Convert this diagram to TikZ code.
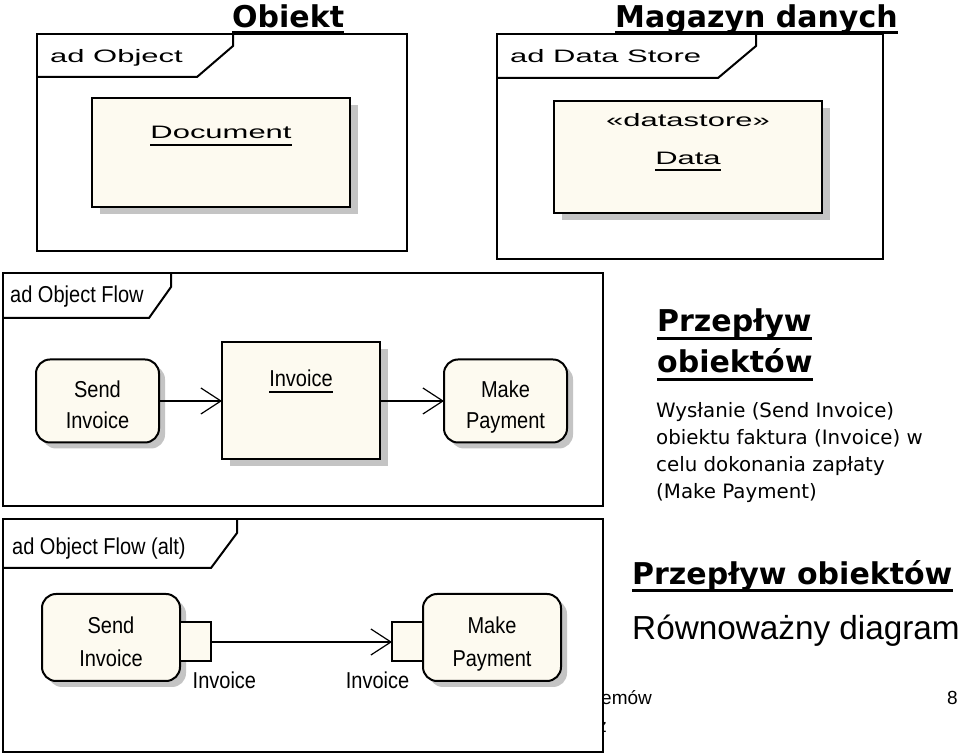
\documentclass[tikz,border=0pt]{standalone}
\usepackage{fontspec}
\setmainfont{Liberation Sans}
\newfontfamily\verdana{DejaVu Sans}
\newfontfamily\pixwide[FakeStretch=1.72]{Liberation Sans}
\newfontfamily\pixnarrow[FakeStretch=0.87]{Liberation Sans}
\usetikzlibrary{
    arrows.meta,
    positioning,
    calc,
    shadows
}
\definecolor{objfill}{RGB}{253,250,240}
\definecolor{shadowgray}{RGB}{196,196,196}
\tikzset{
    % --- Slide titles (bold, underlined by hand) ---
    title/.style = {
        font=\verdana\bfseries\fontsize{30}{36}\selectfont,
        inner sep=0pt, anchor=base west
    },
    % --- Slide body text ---
    body/.style = {
        font=\verdana\fontsize{19.8}{27}\selectfont,
        inner sep=0pt, anchor=base west
    },
    % --- Large plain text ---
    big text/.style = {
        font=\fontsize{33.3}{38}\selectfont,
        inner sep=0pt, anchor=base west
    },
    % --- Footer text ---
    footer/.style = {
        font=\fontsize{19}{23}\selectfont,
        inner sep=0pt
    },
    % --- Diagram frame (ad ...) ---
    ad frame/.style = {
        rectangle, draw, line width=2pt, fill=white,
        inner sep=0pt, outer sep=0pt
    },
    % --- Name tab of a frame ---
    frame tab/.style = {
        line width=2pt
    },
    % --- Wide pixel-like text (upper diagrams) ---
    wide text/.style = {
        font=\pixwide\fontsize{18}{22}\selectfont,
        inner sep=0pt, anchor=base
    },
    % --- Narrow text (lower diagrams) ---
    diagram text/.style = {
        font=\pixnarrow\fontsize{23}{31}\selectfont,
        inner sep=0pt
    },
    % --- Object node ---
    object/.style = {
        rectangle, draw, line width=2pt, fill=objfill,
        inner sep=0pt, outer sep=0pt,
        drop shadow={shadow xshift=8pt, shadow yshift=-7pt,
            fill=shadowgray, opacity=1}
    },
    % --- Action node ---
    action/.style = {
        rectangle, rounded corners=14pt, draw, line width=2pt,
        fill=objfill, inner sep=0pt, outer sep=0pt,
        diagram text, align=center, text height=56pt, text depth=0pt,
        drop shadow={shadow xshift=6pt, shadow yshift=-6pt,
            fill=shadowgray, opacity=1}
    },
    % --- Pin on an action ---
    pinbox/.style = {
        rectangle, draw, line width=2pt, fill=objfill,
        minimum width=31pt, minimum height=39pt,
        inner sep=0pt, outer sep=0pt
    },
    % --- Object flow ---
    flow/.style = {
        line width=2pt,
        -{Straight Barb[length=20pt, width=26pt, line width=1.2pt]}
    }
}

\begin{document}
\begin{tikzpicture}[x=1pt, y=1pt]

\useasboundingbox[fill=white] (0,0) rectangle (960,754);

% ---------------------------------------------------------
% Titles
% ---------------------------------------------------------
\node[title] (tObiekt) at (232,726) {Obiekt};
\node[title] (tMagazyn) at (615,726) {Magazyn danych};

% ---------------------------------------------------------
% ad Object
% ---------------------------------------------------------
\node[ad frame, minimum width=370pt, minimum height=217pt] (fObject) at (222,611.5) {};
\draw[frame tab] ([yshift=-43]fObject.north west) -- ++(160,0) -- ++(36,31) -- ++(0,12);
\node[wide text, anchor=base west] (lObject) at ([xshift=13,yshift=-29]fObject.north west) {ad Object};

\node[object, minimum width=258pt, minimum height=109pt] (doc) at (221,601.5) {};
\node[wide text] (docName) at ([yshift=-41]doc.north) {Document};

% ---------------------------------------------------------
% ad Data Store
% ---------------------------------------------------------
\node[ad frame, minimum width=386pt, minimum height=225pt] (fStore) at (690,607.5) {};
\draw[frame tab] ([yshift=-44]fStore.north west) -- ++(221,0) -- ++(38,32) -- ++(0,12);
\node[wide text, anchor=base west] (lStore) at ([xshift=13,yshift=-29]fStore.north west) {ad Data Store};

\node[object, minimum width=268pt, minimum height=112pt] (store) at (688,597) {};
\node[wide text] (storeType) at ([yshift=-26]store.north) {«datastore»};
\node[wide text] (storeName) at ([yshift=-64]store.north) {Data};

% ---------------------------------------------------------
% ad Object Flow
% ---------------------------------------------------------
\node[ad frame, minimum width=600pt, minimum height=233pt] (fFlow) at (303,364.5) {};
\draw[frame tab] ([yshift=-45]fFlow.north west) -- ++(146,0) -- ++(22,31) -- ++(0,14);
\node[diagram text, anchor=base west] (lFlow) at ([xshift=7,yshift=-30]fFlow.north west) {ad Object Flow};

\node[action, minimum width=123pt, minimum height=83pt] (send) at (97.5,353) {Send\\Invoice};
\node[object, minimum width=158pt, minimum height=117pt, right=63pt of send] (inv) {};
\node[action, minimum width=123pt, minimum height=83pt, right=64pt of inv] (pay) {Make\\Payment};
\node[diagram text, anchor=base] (invName) at ([yshift=-44]inv.north) {Invoice};

\draw[flow] (send) -- (inv);
\draw[flow] (inv) -- (pay);

% ---------------------------------------------------------
% Footer (partly hidden by the last frame)
% ---------------------------------------------------------
\node[footer, anchor=base west] (foot1) at (601,49) {emów};
\node[footer, anchor=base east] (foot2) at (607,21) {z};
\node[footer, anchor=base east] (page) at (958,49) {8};

% ---------------------------------------------------------
% ad Object Flow (alt)
% ---------------------------------------------------------
\node[ad frame, minimum width=600pt, minimum height=233pt] (fAlt) at (303,118.5) {};
\draw[frame tab] ([yshift=-49]fAlt.north west) -- ++(208,0) -- ++(26,35) -- ++(0,14);
\node[diagram text, anchor=base west] (lAlt) at ([xshift=9,yshift=-36]fAlt.north west) {ad Object Flow (alt)};

\node[action, font=\pixnarrow\fontsize{23}{33}\selectfont, text height=59pt,
    minimum width=138pt, minimum height=87pt] (send2) at (111,116.5) {Send\\Invoice};
\node[pinbox, right=0pt of send2, yshift=-4.5pt] (pinOut) {};
\node[pinbox, right=181pt of pinOut] (pinIn) {};
\node[action, font=\pixnarrow\fontsize{23}{33}\selectfont, text height=59pt,
    minimum width=138pt, minimum height=87pt, right=0pt of pinIn, yshift=4.5pt] (pay2) {Make\\Payment};
\node[pinbox] at (pinIn) {};

\node[diagram text, anchor=north west] (pinOutName) at ([xshift=-3,yshift=-10]pinOut.south) {Invoice};
\node[diagram text, anchor=north east] (pinInName) at ([xshift=2,yshift=-10]pinIn.south) {Invoice};

\draw[flow] (pinOut) -- (pinIn);

% ---------------------------------------------------------
% Right-hand text
% ---------------------------------------------------------
\node[title] (tFlow1) at (657,422) {Przepływ};
\node[title] (tFlow2) at (657,381) {obiektów};
\foreach \i/\txt in {0/{Wysłanie (Send Invoice)}, 1/{obiektu faktura (Invoice) w},
    2/{celu dokonania zapłaty}, 3/{(Make Payment)}} {
    \node[body] (desc\i) at (656,336-26.7*\i) {\txt};
}
\node[title] (tFlow3) at (632,169) {Przepływ obiektów};
\node[big text] (equiv) at (632,114) {Równoważny diagram};

% ---------------------------------------------------------
% Underlines
% ---------------------------------------------------------
\foreach \n/\d/\w in {tObiekt/4.5/3, tMagazyn/4.5/3, tFlow1/6.5/3, tFlow2/6.5/3,
    tFlow3/5.5/3, docName/6/2, storeName/5/2, invName/6/2} {
    \draw[line width=\w] ([yshift=-\d]\n.base west) -- ([yshift=-\d]\n.base east);
}

\end{tikzpicture}
\end{document}
